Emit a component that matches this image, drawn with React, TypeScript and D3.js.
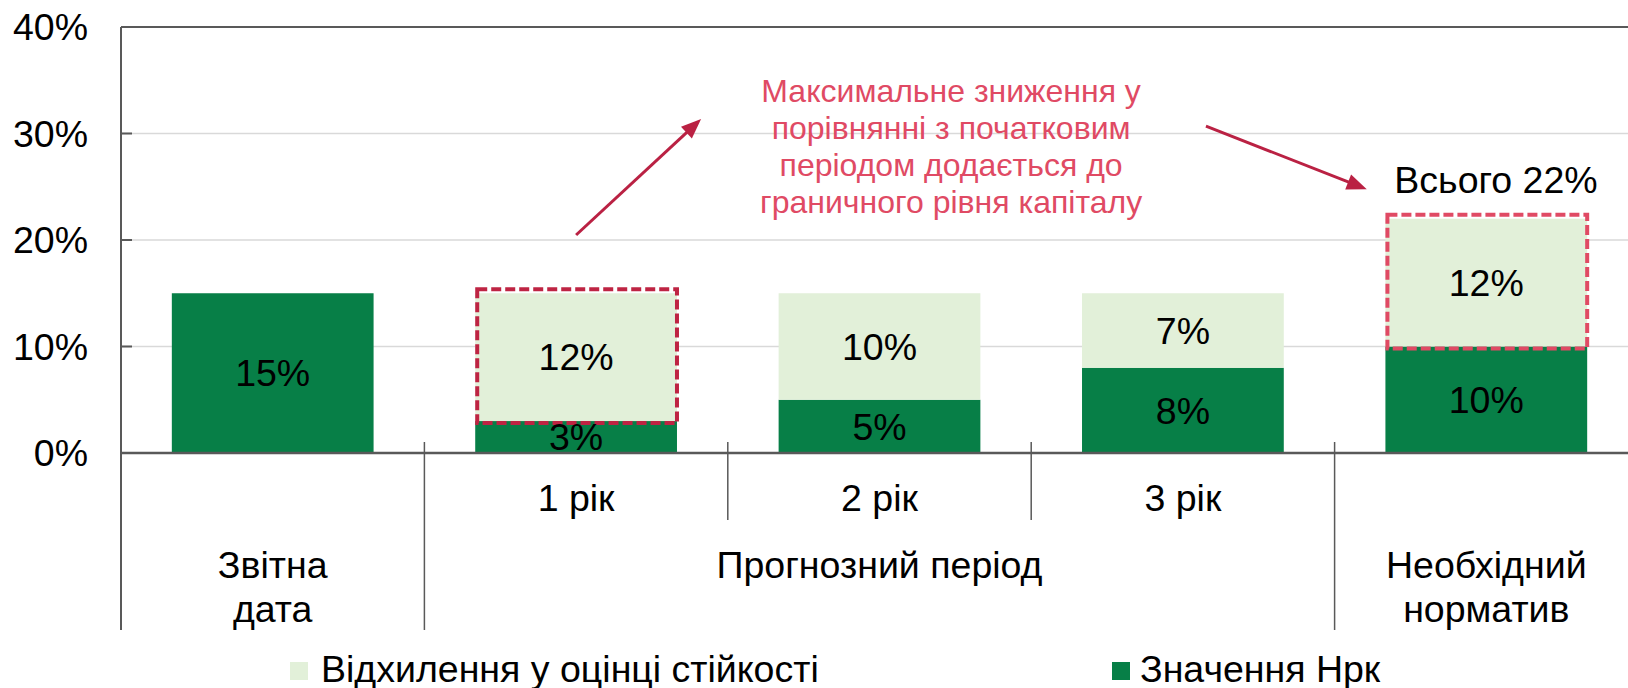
import React from 'react';
import * as d3 from 'd3';

// chart values
const categories = ['Звітна дата', '1 рік', '2 рік', '3 рік', 'Необхідний норматив'];
const yearLabels = ['', '1 рік', '2 рік', '3 рік', ''];
const nrkValues = [15, 3, 5, 8, 10];
const deviationValues = [0, 12, 10, 7, 12];
const yTicks = [0, 10, 20, 30, 40];

const groupLabels = [['Звітна', 'дата'], ['Прогнозний період'], ['Необхідний', 'норматив']];
const groupFirst = [0, 1, 4];
const groupLast = [0, 3, 4];

const highlighted = [1, 4];
const totalLabel = 'Всього 22%';
const noteLines = [
  'Максимальне зниження у',
  'порівнянні з початковим',
  'періодом додається до',
  'граничного рівня капіталу',
];
const legendNames = ['Відхилення у оцінці стійкості', 'Значення Нрк'];

const W = 1628;
const H = 688;
const margin = {top: 27, left: 121, bottom: 235};
const plotRight = 1638; // plot runs slightly past the right edge, as in the original

const DARK = '#077f47';
const LIGHT = '#e2f0d9';
const AXIS = '#595959';
const GRID = '#d9d9d9';
const FONT = '"Liberation Sans", Arial, sans-serif';
const FS = 37.5;

const fmt = (v: number) => `${v}%`;

const Arrow = ({x1, y1, x2, y2, color}: {x1: number, y1: number, x2: number, y2: number, color: string}) => {
  const ang = Math.atan2(y2 - y1, x2 - x1);
  const len = 20, half = 8;
  const bx = x2 - len * Math.cos(ang), by = y2 - len * Math.sin(ang);
  const px = -Math.sin(ang) * half, py = Math.cos(ang) * half;
  return (
    <g>
      <line x1={x1} y1={y1} x2={bx + 2 * Math.cos(ang)} y2={by + 2 * Math.sin(ang)} stroke={color} strokeWidth={3} />
      <path d={`M${x2},${y2}L${bx + px},${by + py}L${bx - px},${by - py}Z`} fill={color} />
    </g>
  );
};

const App = () => {
  const bottom = H - margin.bottom;

  const x = d3.scaleBand<string>()
    .domain(categories)
    .range([margin.left, plotRight])
    .paddingInner(0.335)
    .paddingOuter(0.1675);

  const y = d3.scaleLinear()
    .domain([0, 40])
    .range([bottom, margin.top]);

  // positions in "category units" for annotations
  const pos = d3.scaleLinear().domain([0, categories.length]).range([margin.left, plotRight]);

  const step = x.step();
  const bw = x.bandwidth();
  const boundary = (i: number) => margin.left + step * i;

  const groupBounds = new Set<number>();
  groupFirst.forEach(g => groupBounds.add(g));
  groupLast.forEach(g => groupBounds.add(g + 1));

  return (
    <svg width={W} height={H} style={{position: 'absolute', left: 0, top: 0}} fontFamily={FONT}>
      <rect width={W} height={H} fill="#fff" />

      {/* gridlines */}
      {yTicks.filter(t => t > 0 && t < 40).map(t => (
        <line key={t} x1={margin.left} x2={W} y1={y(t)} y2={y(t)} stroke={GRID} strokeWidth={1.5} />
      ))}
      <line x1={margin.left} x2={W} y1={y(40)} y2={y(40)} stroke={AXIS} strokeWidth={2} />

      {/* stacked bars */}
      {categories.map((c, i) => (
        <g key={c}>
          <rect x={x(c)} y={y(nrkValues[i])} width={bw} height={y(0) - y(nrkValues[i])} fill={DARK} />
          {deviationValues[i] > 0 && (
            <rect x={x(c)} y={y(nrkValues[i] + deviationValues[i])} width={bw}
              height={y(nrkValues[i]) - y(nrkValues[i] + deviationValues[i])} fill={LIGHT} />
          )}
        </g>
      ))}

      {/* dashed highlight frames */}
      {highlighted.map((i, k) => {
        const c = categories[i];
        const top = y(nrkValues[i] + deviationValues[i]) - 4;
        const bot = y(nrkValues[i]) + 2;
        return (
          <rect key={c} x={(x(c) as number) + 2} y={top} width={bw - 2} height={bot - top}
            fill="none" stroke={k === 0 ? '#be2443' : '#e04a64'} strokeWidth={4} strokeDasharray="10,4" />
        );
      })}

      {/* data labels */}
      {categories.map((c, i) => {
        const cx = (x(c) as number) + bw / 2;
        return (
          <g key={c} fontSize={FS} fill="#000" textAnchor="middle">
            <text x={cx} y={y(nrkValues[i] / 2)} dy="0.35em">{fmt(nrkValues[i])}</text>
            {deviationValues[i] > 0 && (
              <text x={cx} y={y(nrkValues[i] + deviationValues[i] / 2)} dy="0.35em">{fmt(deviationValues[i])}</text>
            )}
          </g>
        );
      })}

      {/* y axis */}
      <line x1={margin.left} x2={margin.left} y1={margin.top} y2={630} stroke={AXIS} strokeWidth={2} />
      {yTicks.map(t => (
        <g key={t}>
          <line x1={margin.left} x2={margin.left + 11} y1={y(t)} y2={y(t)} stroke={AXIS} strokeWidth={2} />
          <text x={88} y={y(t)} dy="0.35em" textAnchor="end" fontSize={FS}>{fmt(t)}</text>
        </g>
      ))}

      {/* x axis with two label levels */}
      <line x1={margin.left} x2={W} y1={y(0)} y2={y(0)} stroke={AXIS} strokeWidth={2.5} />
      {d3.range(1, categories.length).map(i => (
        <line key={i} x1={boundary(i)} x2={boundary(i)} y1={y(0) - 11}
          y2={groupBounds.has(i) ? 630 : 520} stroke={AXIS} strokeWidth={1.5} />
      ))}
      {yearLabels.map((l, i) => l && (
        <text key={i} x={(x(categories[i]) as number) + bw / 2} y={511} textAnchor="middle" fontSize={FS}>{l}</text>
      ))}
      {groupLabels.map((lines, g) => {
        const cx = (boundary(groupFirst[g]) + boundary(groupLast[g] + 1)) / 2;
        return (
          <text key={g} x={cx} y={578} textAnchor="middle" fontSize={FS}>
            {lines.map((ln, j) => <tspan key={j} x={cx} dy={j === 0 ? 0 : 43.7}>{ln}</tspan>)}
          </text>
        );
      })}

      {/* annotation */}
      <text x={pos(2.736)} y={101.5} textAnchor="middle" fontSize={32} fill="#e04a64">
        {noteLines.map((ln, j) => <tspan key={j} x={pos(2.736)} dy={j === 0 ? 0 : 37}>{ln}</tspan>)}
      </text>
      <Arrow x1={pos(1.5)} y1={y(20.47)} x2={pos(1.912)} y2={y(31.35)} color="#ba2143" />
      <Arrow x1={pos(3.576)} y1={y(30.7)} x2={pos(4.106)} y2={y(24.76)} color="#ba2143" />
      <text x={pos(4.532)} y={193} textAnchor="middle" fontSize={FS}>{totalLabel}</text>

      {/* legend */}
      <rect x={290} y={662} width={18} height={18} fill={LIGHT} />
      <text x={321} y={681.5} fontSize={FS}>{legendNames[0]}</text>
      <rect x={1112} y={662} width={18} height={18} fill={DARK} />
      <text x={1140} y={681.5} fontSize={FS}>{legendNames[1]}</text>
    </svg>
  );
};

export default App;
